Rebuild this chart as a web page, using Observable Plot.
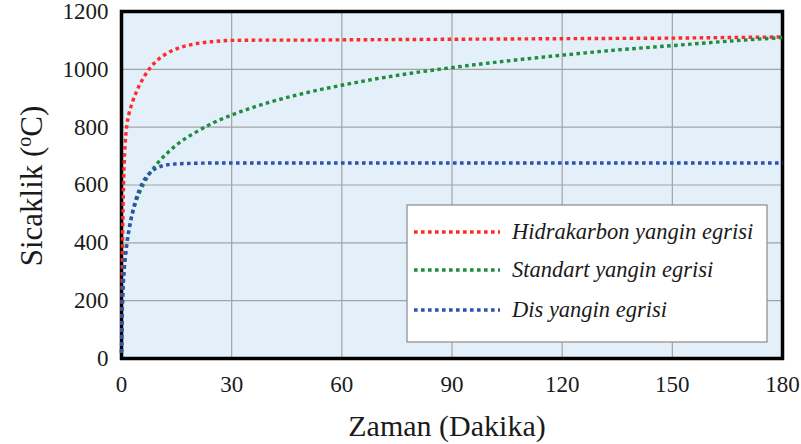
<!DOCTYPE html>
<html><head><meta charset="utf-8">
<script src="https://cdn.jsdelivr.net/npm/d3@7"></script>
<script src="https://cdn.jsdelivr.net/npm/@observablehq/plot@0.6"></script>
<style>body{margin:0;background:#fff} #chart{position:relative;width:801px;height:444px}</style>
</head><body><div id="chart"></div>
<script>
// Time (minutes)
const time = [0, 0.25, 0.5, 0.75, 1, 1.5, 2, 3, 4, 5, 6, 7.5, 10, 12.5, 15, 20, 25, 30, 40, 50, 60, 75, 90, 105, 120, 135, 150, 165, 180];
// Temperatures (°C)
const hydrocarbon = [20, 373, 568, 679, 743, 810, 844, 887, 920, 948, 971, 1000, 1034, 1056, 1071, 1088, 1096, 1100, 1101, 1101, 1102, 1103, 1104, 1105, 1106, 1107, 1108, 1110, 1112];
const standard    = [20, 185, 261, 312, 349, 404, 445, 502, 544, 576, 603, 636, 678, 711, 739, 781, 815, 842, 885, 918, 945, 979, 1006, 1029, 1049, 1067, 1082, 1097, 1110];
const external    = [20, 182, 263, 311, 346, 399, 441, 506, 554, 588, 614, 639, 661, 670, 673, 675, 676, 676, 676, 676, 676, 676, 676, 676, 676, 676, 676, 676, 676];
const seriesNames = ["Hidrakarbon yangin egrisi", "Standart yangin egrisi", "Dis yangin egrisi"];
const seriesColors = ["#ff2a2a", "#1f8c3e", "#2f50b4"];
const xTicks = [0, 30, 60, 90, 120, 150, 180];
const yTicks = [0, 200, 400, 600, 800, 1000, 1200];
const xTitle = "Zaman (Dakika)";
const yTitle = ["Sicaklik (", "o", "C)"];

const rows = [];
[hydrocarbon, standard, external].forEach((vals, i) =>
  vals.forEach((v, j) => rows.push({t: time[j], temp: v, series: seriesNames[i]})));

const font = "'Liberation Serif', 'Times New Roman', serif";
const dash = "3.6,3.4";

const plot = Plot.plot({
  width: 801, height: 444,
  marginLeft: 121, marginRight: 19, marginTop: 11, marginBottom: 86,
  style: {fontFamily: font, fontSize: "22px", color: "#1a1a1a", background: "transparent"},
  x: {domain: [0, 180], label: null},
  y: {domain: [0, 1200], label: null},
  color: {domain: seriesNames, range: seriesColors},
  marks: [
    Plot.frame({fill: "#e3f0fa", stroke: null}),
    Plot.gridX(xTicks, {stroke: "#a3a3a3", strokeOpacity: 1, strokeWidth: 1.2}),
    Plot.gridY(yTicks, {stroke: "#a3a3a3", strokeOpacity: 1, strokeWidth: 1.2}),
    Plot.frame({stroke: "#000", strokeWidth: 3.5}),
    Plot.line(rows, {x: "t", y: "temp", z: "series", stroke: "series", strokeWidth: 3.4,
      strokeDasharray: dash, strokeLinecap: "butt", strokeLinejoin: "miter", curve: "monotone-x"}),
    Plot.axisX(xTicks, {tickSize: 0, tickPadding: 17, fontSize: 23, label: null, tickFormat: d3.format("d")}),
    Plot.axisY(yTicks, {tickSize: 0, tickPadding: 13, fontSize: 23, label: null, tickFormat: d3.format("d")})
  ]
});
document.getElementById("chart").appendChild(plot);

const svg = d3.select(plot);
svg.append("text")
  .attr("x", 447).attr("y", 436)
  .attr("text-anchor", "middle")
  .attr("font-family", font).attr("font-size", 30).attr("fill", "#1a1a1a")
  .text(xTitle);

const yt = svg.append("text")
  .attr("transform", "translate(42,186) rotate(-90)")
  .attr("text-anchor", "middle")
  .attr("font-family", font).attr("font-size", 31).attr("fill", "#1a1a1a");
yt.append("tspan").text(yTitle[0]);
yt.append("tspan").attr("font-size", 20).attr("dy", -11).text(yTitle[1]);
yt.append("tspan").attr("dy", 11).text(yTitle[2]);

// Legend
const lg = svg.append("g");
lg.append("rect").attr("x", 407).attr("y", 205).attr("width", 360).attr("height", 137)
  .attr("fill", "#fff").attr("stroke", "#8a8a8a").attr("stroke-width", 1.2);
const rowsY = [232, 270, 310];
seriesNames.forEach((name, i) => {
  lg.append("line").attr("x1", 414).attr("x2", 500).attr("y1", rowsY[i]).attr("y2", rowsY[i])
    .attr("stroke", seriesColors[i]).attr("stroke-width", 3.4).attr("stroke-dasharray", dash)
    .attr("stroke-linecap", "butt");
  lg.append("text").attr("x", 512).attr("y", rowsY[i] + 7)
    .attr("text-anchor", "start")
    .attr("font-family", font).attr("font-style", "italic").attr("font-size", 22.5).attr("fill", "#1a1a1a")
    .text(name);
});
</script>
</body></html>
